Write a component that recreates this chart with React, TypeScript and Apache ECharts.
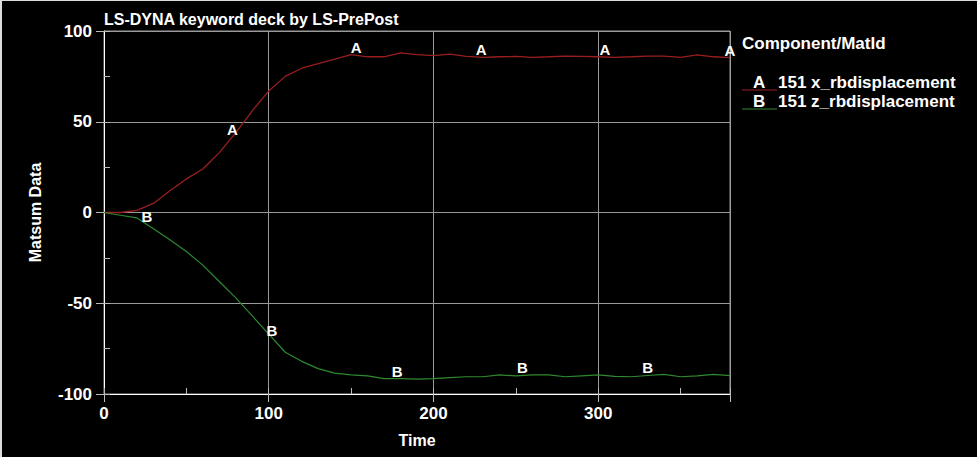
import React, { useEffect, useRef } from "react";
import * as echarts from "echarts";

const times = [0,10,20,30,40,50,60,70,80,90,100,110,120,130,140,150,160,170,180,190,200,210,220,230,240,250,260,270,280,290,300,310,320,330,340,350,360,370,380];
const seriesA = [0,0,1.2,5,12,18.5,24,33,44,56,67,75,79.5,82,84.5,87,85.8,85.8,88,87,86.4,87.3,86,85.5,85.8,86,85.5,85.8,86.2,86,85.8,85.5,85.8,86.2,86.2,85.5,86.8,85.8,85.3];
const seriesB = [0,-1.5,-3,-9,-15,-21.5,-29,-38,-47,-57,-67,-77,-82,-86,-88.5,-89.5,-90,-91.5,-91.5,-91.8,-91.5,-91,-90.5,-90.5,-89.5,-90,-89.5,-89.5,-90.5,-90,-89.5,-90.3,-90.5,-89.8,-89.2,-90.5,-90,-89.2,-89.9];
const labelTimesA = [78, 153, 229, 304, 380];
const labelTimesB = [26, 102, 178, 254, 330];
const yTicks = [-100, -50, 0, 50, 100];
const xTickStep = 100;
const legendItems = [
  { letter: "A", name: "151 x_rbdisplacement", color: "#9a1e1e" },
  { letter: "B", name: "151 z_rbdisplacement", color: "#2f8a2f" },
];
const title = "LS-DYNA keyword deck by LS-PrePost";
const legendTitle = "Component/MatId";

function interp(t: number, ys: number[]) {
  for (let i = 0; i < times.length - 1; i++) {
    if (t >= times[i] && t <= times[i + 1]) {
      const f = (t - times[i]) / (times[i + 1] - times[i]);
      return ys[i] + f * (ys[i + 1] - ys[i]);
    }
  }
  return ys[ys.length - 1];
}

const FONT = "'Liberation Sans', Arial, sans-serif";

export default function App() {
  const ref = useRef<HTMLDivElement>(null);
  useEffect(() => {
    if (!ref.current) return;
    const chart = echarts.init(ref.current, null, { renderer: "svg" });
    const gridLine = { show: true, lineStyle: { color: "#9a9a9a", width: 1 } };
    const lbl = { color: "#fff", fontFamily: FONT, fontWeight: "bold" as const, fontSize: 17 };
    const legendGraphics: any[] = [
      { type: "rect", shape: { x: 0, y: 0, width: 977, height: 1 }, style: { fill: "#ddd" } },
      { type: "rect", shape: { x: 0, y: 0, width: 2, height: 457 }, style: { fill: "#ddd" } },
      { type: "text", x: 742, y: 43, style: { text: legendTitle, fill: "#fff", font: `bold 17px ${FONT}`, verticalAlign: "middle" } },
    ];
    legendItems.forEach((it, i) => {
      const y = 82 + i * 19;
      legendGraphics.push({ type: "line", shape: { x1: 742, y1: y + 8, x2: 777, y2: y + 8 }, style: { stroke: it.color, lineWidth: 1 } });
      legendGraphics.push({ type: "text", x: 753, y: y, style: { text: it.letter, fill: "#fff", font: `bold 17px ${FONT}`, verticalAlign: "middle" } });
      legendGraphics.push({ type: "text", x: 778, y: y, style: { text: it.name, fill: "#fff", font: `bold 17px ${FONT}`, verticalAlign: "middle" } });
    });
    const markLabel = { show: true, position: "top", distance: 0, color: "#ffffff", fontFamily: FONT, fontWeight: "bold", fontSize: 15 };
    chart.setOption({
      animation: false,
      backgroundColor: "#000",
      title: { text: title, left: 104, top: 11, padding: 0, textStyle: { color: "#fff", fontFamily: FONT, fontWeight: "bold", fontSize: 16 } },
      grid: { left: 104, right: 247, top: 31, bottom: 63, show: true, borderColor: "#9a9a9a", borderWidth: 1 },
      xAxis: [
        {
          type: "value", min: 0, max: 380, interval: xTickStep,
          name: "Time", nameLocation: "middle", nameGap: 38,
          nameTextStyle: { ...lbl, fontSize: 16 },
          axisLine: { show: true, onZero: false, lineStyle: { color: "#fff", width: 1 } },
          axisTick: { show: true, inside: false, length: 8, lineStyle: { color: "#bbb" } },
          axisLabel: { ...lbl, margin: 11, formatter: (v: number) => (v % xTickStep === 0 ? String(v) : "") },
          splitLine: gridLine,
        },
        {
          type: "value", min: 0, max: 380, interval: 50, position: "bottom",
          axisLine: { show: false, onZero: false },
          axisTick: { show: true, inside: true, length: 6, lineStyle: { color: "#bbb" } },
          axisLabel: { show: false },
          splitLine: { show: false },
        },
      ],
      yAxis: [
        {
          type: "value", min: yTicks[0], max: yTicks[yTicks.length - 1], interval: 50,
          name: "Matsum Data", nameLocation: "middle", nameGap: 61, nameRotate: 90,
          nameTextStyle: { ...lbl, fontSize: 16 },
          axisLine: { show: true, onZero: false, lineStyle: { color: "#fff", width: 1 } },
          axisTick: { show: true, length: 8, lineStyle: { color: "#bbb" } },
          axisLabel: { ...lbl, margin: 12 },
          splitLine: gridLine,
        },
        {
          type: "value", min: -100, max: 100, interval: 25, position: "left",
          axisLine: { show: false, onZero: false },
          axisTick: { show: true, inside: true, length: 6, lineStyle: { color: "#bbb" } },
          axisLabel: { show: false },
          splitLine: { show: false },
        },
      ],
      series: [
        { type: "line", name: "A", data: times.map((t, i) => [t, seriesA[i]]), showSymbol: false, lineStyle: { color: legendItems[0].color, width: 1.3 }, z: 3 },
        { type: "line", name: "B", data: times.map((t, i) => [t, seriesB[i]]), showSymbol: false, lineStyle: { color: legendItems[1].color, width: 1.2 }, z: 3 },
        {
          type: "scatter", symbolSize: 0, data: labelTimesA.map((t) => [t, interp(t, seriesA)]), z: 4,
          itemStyle: { opacity: 1 },
          label: { ...markLabel, formatter: "A" },
        },
        {
          type: "scatter", symbolSize: 0, data: labelTimesB.map((t) => [t, interp(t, seriesB)]), z: 4,
          itemStyle: { opacity: 1 },
          label: { ...markLabel, formatter: "B" },
        },
      ],
      graphic: legendGraphics,
    });
    return () => chart.dispose();
  }, []);
  return <div ref={ref} style={{ position: "fixed", left: 0, top: 0, width: 977, height: 457 }} />;
}
